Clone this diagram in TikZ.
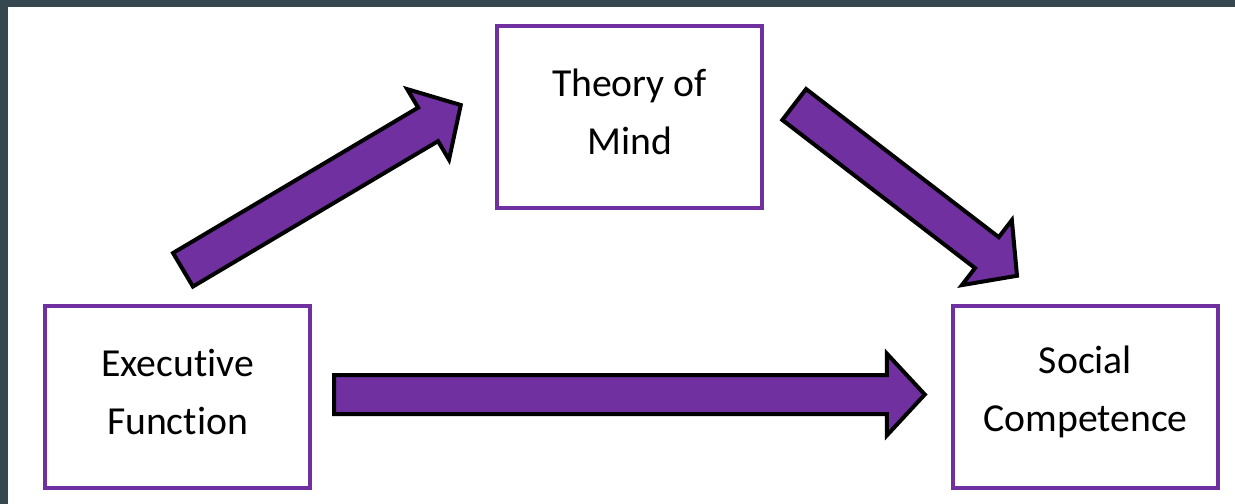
\documentclass[tikz,border=0pt]{standalone}
\usepackage{fontspec}
\setmainfont{Carlito}[Ligatures=NoCommon]
\usetikzlibrary{calc}
\definecolor{boxpurple}{HTML}{7030A0}
\definecolor{framegrey}{HTML}{37474F}

% block arrow from tail #1 to tip #2
\newcommand{\blockarrow}[2]{%
  \coordinate (ba-base) at ($(#2)!0.76cm!(#1)$);
  \filldraw[arrowbody] ($(#1)!0.39cm!90:(#2)$) -- ($(ba-base)!0.39cm!90:(#2)$)
    -- ($(ba-base)!0.82cm!90:(#2)$) -- (#2) -- ($(ba-base)!0.82cm!-90:(#2)$)
    -- ($(ba-base)!0.39cm!-90:(#2)$) -- ($(#1)!0.39cm!-90:(#2)$) -- cycle;
}

\begin{document}
\begin{tikzpicture}[x=0.02cm, y=-0.02cm,
  concept/.style={draw=boxpurple, line width=0.09cm, fill=white,
    minimum width=5.3cm, minimum height=3.64cm, inner sep=0pt},
  conceptText/.style={align=center, inner sep=0pt,
    font=\fontsize{22.6}{33}\selectfont},
  arrowbody/.style={fill=boxpurple, draw=black, line width=0.08cm, line join=miter}]
  % frame
  \fill[framegrey] (0,0) rectangle (1235,504);
  \fill[white] (8,7) rectangle (1235,504);
  \useasboundingbox (0,0) rectangle (1235,504);
  % boxes
  \node[concept] (tom) at (629.5,117) {};
  \node[concept] (ef) at (177.5,397) {};
  \node[concept] (sc) at (1085.5,397) {};
  \node[conceptText] (tomText) at ($(tom)+(0,-5)$) {Theory of\\Mind};
  \node[conceptText] (efText) at ($(ef)+(0,-5)$) {Executive\\Function};
  \node[conceptText] (scText) at ($(sc)+(0,-5)$) {Social\\Competence};
  % arrow ends
  \coordinate (efTail) at ($(ef.north)+(5.5,-34)$);
  \coordinate (tomTip) at ($(tom.west)+(-34,-12)$);
  \coordinate (tomTail) at ($(tom.east)+(30,-12.5)$);
  \coordinate (scTip) at ($(sc.north)+(-68.5,-28)$);
  \coordinate (efOut) at ($(ef.east)+(22,-2.5)$);
  \coordinate (scIn) at ($(sc.west)+(-26,-2.5)$);
  % arrows
  \blockarrow{efTail}{tomTip}
  \blockarrow{tomTail}{scTip}
  \blockarrow{efOut}{scIn}
\end{tikzpicture}
\end{document}
